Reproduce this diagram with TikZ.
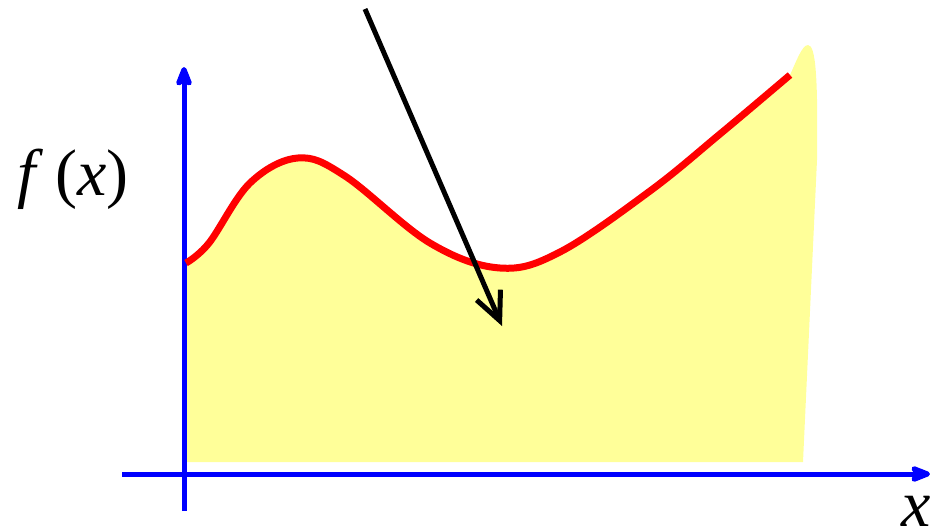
\documentclass[tikz,border=0pt]{standalone}
\usepackage{fontspec}
\setmainfont{Liberation Serif}[ItalicFont={Liberation Serif Italic}]
\usetikzlibrary{arrows.meta}
\definecolor{fillyellow}{RGB}{255,255,153}
\tikzset{
  axis/.style={draw={rgb,255:red,0;green,0;blue,255}, line width=5pt, -{Stealth[length=26pt,width=20pt,inset=6pt,round]}},
  curve/.style={draw={rgb,255:red,255;green,0;blue,0}, line width=7pt},
  pointer/.style={draw=black, line width=5pt, -{Straight Barb[length=28pt,width=26pt]}},
  lab/.style={font=\fontsize{66}{70}\selectfont, inner sep=0pt, anchor=base west}
}
\begin{document}
\begin{tikzpicture}[x=1pt,y=-1pt]
\useasboundingbox (0,0) rectangle (930,528);
% area under curve
\fill[fillyellow] (186,462) -- plot[smooth,tension=0.6] coordinates {(186,263) (209,243) (250,183) (298,158) (345,176) (430,243) (500,268) (560,252) (650,191) (720,134) (790,75)}
  .. controls (796,62) and (802,45) .. (808,45)
  .. controls (816,45) and (818,80) .. (817,160)
  -- (803,462) -- cycle;
% axes
\coordinate (xs) at (122,474);
\coordinate (xe) at (930,474);
\coordinate (ys) at (184,511);
\coordinate (ye) at (184,67);
\draw[axis] (xs) -- (xe);
\draw[axis] (ys) -- (ye);
% function
\draw[curve] plot[smooth,tension=0.6] coordinates {(186,263) (209,243) (250,183) (298,158) (345,176) (430,243) (500,268) (560,252) (650,191) (720,134) (790,75)};
% pointer arrow
\coordinate (ps) at (365,9);
\coordinate (pe) at (502,326);
\draw[pointer] (ps) -- (pe);
% labels
\node[lab] (flab) at (17,195) {\textit{f}};
\node[lab] (paren) at (55,195) {(\textit{x})};
\node[lab] (xlab) at (901,526) {\textit{x}};
\end{tikzpicture}
\end{document}
